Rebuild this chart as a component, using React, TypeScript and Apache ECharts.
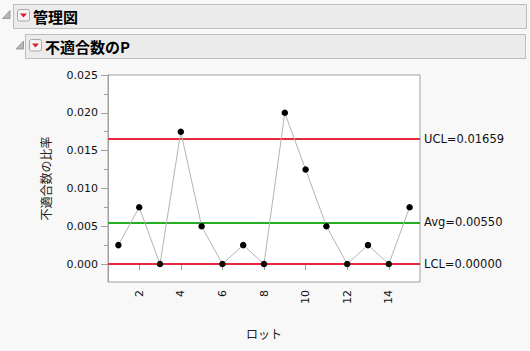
import React, { useEffect, useRef } from "react";
import * as echarts from "echarts";

const lots = [1, 2, 3, 4, 5, 6, 7, 8, 9, 10, 11, 12, 13, 14, 15];
const proportions = [0.0025, 0.0075, 0, 0.0175, 0.005, 0, 0.0025, 0, 0.02, 0.0125, 0.005, 0, 0.0025, 0, 0.0075];
const xTicks = [2, 4, 6, 8, 10, 12, 14];
const yTicks = [0, 0.005, 0.01, 0.015, 0.02, 0.025];
const yMinorTicks = [-0.0025, 0.0025, 0.0075, 0.0125, 0.0175, 0.0225];
const limits = [
  { name: "UCL", value: 0.01659, color: "#e8283c" },
  { name: "Avg", value: 0.0055, color: "#22b022" },
  { name: "LCL", value: 0, color: "#e8283c" },
];

const X_MIN = 0.5;
const X_MAX = 15.5;
const Y_MIN = -0.00238;
const Y_MAX = 0.025;

export default function App() {
  const ref = useRef<HTMLDivElement>(null);
  useEffect(() => {
    if (!ref.current) return;
    const chart = echarts.init(ref.current, undefined, { renderer: "svg" });
    const tickFont = "DejaVu Sans";
    const cjk = "Noto Sans CJK JP";
    const discl = (x: number, y: number) => ({
      type: "polygon",
      shape: { points: [[x, y + 8], [x + 7.5, y + 8], [x + 7.5, y]] },
      style: { fill: "#b8b8b8", stroke: "#8a8a8a", lineWidth: 0.8 },
    });
    const redBtn = (x: number, y: number) => ({
      type: "group",
      children: [
        {
          type: "rect",
          shape: { x: x, y: y, width: 12, height: 11.5, r: 2 },
          style: { fill: "#f4f4f4", stroke: "#a8a8a8", lineWidth: 1 },
        },
        {
          type: "polygon",
          shape: { points: [[x + 2.5, y + 4], [x + 9.5, y + 4], [x + 6, y + 8]] },
          style: { fill: "#dd1e2a" },
        },
      ],
    });
    chart.setOption({
      animation: false,
      backgroundColor: "#f8f8f8",
      grid: {
        left: 108,
        top: 75,
        right: 110,
        bottom: 69,
        show: true,
        backgroundColor: "#ffffff",
        borderColor: "#a0a0a0",
        borderWidth: 1,
      },
      xAxis: {
        type: "value",
        min: X_MIN,
        max: X_MAX,
        name: "ロット",
        nameLocation: "middle",
        nameGap: 45,
        nameTextStyle: { fontFamily: cjk, fontSize: 12, color: "#222" },
        axisLine: { show: true, lineStyle: { color: "#a0a0a0" } },
        axisTick: { show: true, customValues: xTicks, length: 6, lineStyle: { color: "#a0a0a0" } },
        axisLabel: {
          customValues: xTicks,
          rotate: 90,
          margin: 8,
          fontFamily: tickFont,
          fontSize: 11,
          color: "#111",
        },
        splitLine: { show: false },
      },
      yAxis: [
        {
          type: "value",
          min: Y_MIN,
          max: Y_MAX,
          name: "不適合数の比率",
          nameLocation: "middle",
          nameGap: 57,
          nameRotate: 90,
          nameTextStyle: { fontFamily: cjk, fontSize: 12, color: "#222" },
          axisLine: { show: true, lineStyle: { color: "#a0a0a0" } },
          axisTick: { show: true, customValues: yTicks, length: 7, lineStyle: { color: "#a0a0a0" } },
          axisLabel: {
            customValues: yTicks,
            margin: 10,
            fontFamily: tickFont,
            fontSize: 11,
            color: "#111",
            formatter: (v: number) => v.toFixed(3),
          },
          splitLine: { show: false },
        },
        {
          type: "value",
          position: "left",
          min: Y_MIN,
          max: Y_MAX,
          axisLine: { show: false },
          axisTick: { show: true, customValues: yMinorTicks, length: 4, lineStyle: { color: "#a0a0a0" } },
          axisLabel: { show: false },
          splitLine: { show: false },
        },
      ],
      series: [
        {
          type: "line",
          data: lots.map((l, i) => [l, proportions[i]]),
          symbol: "circle",
          symbolSize: 6.5,
          itemStyle: { color: "#000" },
          lineStyle: { color: "#b4b4b4", width: 1 },
          z: 5,
          markLine: {
            silent: true,
            symbol: "none",
            precision: 6,
            data: limits.map((l) => ({
              yAxis: l.value,
              lineStyle: { color: l.color, width: 2, type: "solid" },
              label: {
                show: true,
                position: "end",
                distance: 4,
                formatter: `${l.name}=${l.value.toFixed(5)}`,
                fontFamily: tickFont,
                fontSize: 11.5,
                color: "#111",
              },
            })),
            z: 3,
          },
        },
      ],
      graphic: [
        {
          type: "rect",
          shape: { x: 13.5, y: 4.5, width: 513, height: 24 },
          style: { fill: "#ebebeb", stroke: "#bdbdbd", lineWidth: 1 },
        },
        {
          type: "rect",
          shape: { x: 25.5, y: 34.5, width: 500, height: 24 },
          style: { fill: "#ebebeb", stroke: "#bdbdbd", lineWidth: 1 },
        },
        discl(2.5, 10.5),
        discl(16, 41),
        redBtn(17.5, 9.5),
        redBtn(29.5, 39.5),
        {
          type: "text",
          x: 33,
          y: 16,
          style: {
            text: "管理図",
            fontFamily: cjk,
            fontWeight: "bold",
            fontSize: 15,
            fill: "#000",
            verticalAlign: "middle",
          },
        },
        {
          type: "text",
          x: 45,
          y: 46,
          style: {
            text: "不適合数のP",
            fontFamily: cjk,
            fontWeight: "bold",
            fontSize: 15,
            fill: "#000",
            verticalAlign: "middle",
          },
        },
      ],
    });
    return () => chart.dispose();
  }, []);
  return (
    <div
      ref={ref}
      style={{ position: "fixed", left: 0, top: 0, width: 530, height: 351 }}
    />
  );
}
